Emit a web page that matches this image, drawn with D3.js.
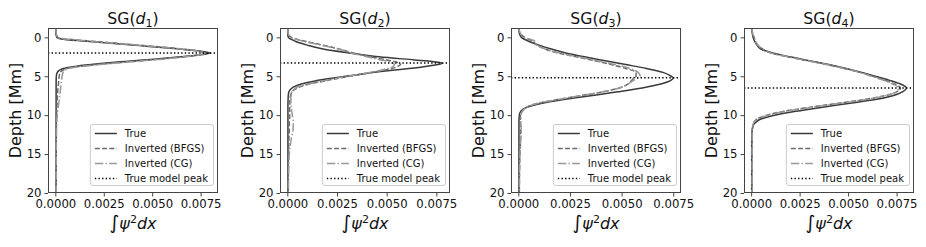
<!DOCTYPE html>
<html>
<head>
<meta charset="utf-8">
<script src="https://cdn.jsdelivr.net/npm/d3@7"></script>
<style>
  body { margin: 0; background: #fff; }
  svg { display: block; }
  text { font-family: "DejaVu Sans", sans-serif; }
</style>
</head>
<body>
<div id="vis"></div>
<script>
// depth grid (Mm) and integrated psi^2 per panel
var depth1 = [-1.2, -0.6, 0, 0.2, 0.5, 1.0, 1.5, 1.8, 2.0, 2.2, 2.5, 2.8, 3.1, 3.4, 3.7, 4.0, 4.5, 5, 6, 7, 8, 9, 10, 12, 15, 20];
var true1 = [0.00002, 0.00002, 0.00008, 0.0003, 0.0016, 0.0040, 0.0064, 0.0075, 0.0080, 0.0076, 0.0065, 0.0051, 0.0036, 0.0022, 0.0011, 0.0004, 0.0001, 0.00005, 0.00004, 0.00004, 0.00004, 0.00004, 0.00004, 0.00004, 0.00004, 0.00004];
var bfgs1 = [0.00003, 0.00004, 0.00012, 0.0005, 0.0019, 0.0043, 0.0066, 0.0075, 0.0078, 0.0076, 0.0067, 0.0054, 0.0040, 0.0026, 0.0014, 0.0006, 0.00025, 0.0002, 0.00016, 0.00012, 0.0001, 0.00008, 0.00006, 0.00005, 0.00004, 0.00004];
var cg1   = [0.00003, 0.00004, 0.00012, 0.0005, 0.0018, 0.0042, 0.0065, 0.0074, 0.0077, 0.0075, 0.0067, 0.0055, 0.0041, 0.0027, 0.0015, 0.0007, 0.0004, 0.00035, 0.0003, 0.00025, 0.0002, 0.00015, 0.0001, 0.00006, 0.00005, 0.00005];

var depth2 = [-1.2, -0.5, 0, 0.5, 1.0, 1.5, 2.0, 2.5, 2.9, 3.1, 3.3, 3.5, 3.8, 4.1, 4.4, 4.8, 5.2, 5.6, 6.0, 6.4, 6.8, 7.2, 7.8, 9, 10, 11, 12, 13, 15, 17, 20];
var true2 = [0.00002, 0.00002, 0.00005, 0.0004, 0.0010, 0.0018, 0.0031, 0.0046, 0.0064, 0.0073, 0.0078, 0.0076, 0.0068, 0.0058, 0.0047, 0.0035, 0.0024, 0.0014, 0.0007, 0.0003, 0.00012, 0.00006, 0.00004, 0.00003, 0.00003, 0.00003, 0.00003, 0.00003, 0.00003, 0.00003, 0.00003];
var bfgs2 = [0.00003, 0.00004, 0.0002, 0.0009, 0.0018, 0.0026, 0.0033, 0.0042, 0.0050, 0.0054, 0.0056, 0.0057, 0.0055, 0.0051, 0.0045, 0.0036, 0.0027, 0.0019, 0.0011, 0.0006, 0.0003, 0.0002, 0.00014, 0.00012, 0.00012, 0.0001, 0.0001, 0.00008, 0.00006, 0.00005, 0.00005];
var cg2   = [0.00003, 0.00004, 0.0002, 0.0008, 0.0017, 0.0026, 0.0032, 0.0040, 0.0047, 0.0051, 0.0053, 0.0054, 0.0053, 0.0049, 0.0044, 0.0035, 0.0026, 0.0018, 0.0010, 0.0005, 0.0003, 0.0002, 0.00018, 0.0002, 0.00025, 0.0003, 0.00028, 0.0002, 0.0001, 0.00007, 0.00005];

var depth3 = [-1.2, -0.5, 0, 0.5, 1.0, 1.5, 2.0, 2.5, 3.0, 3.5, 4.0, 4.5, 5.0, 5.2, 5.5, 6.0, 6.5, 7.0, 7.5, 8.0, 8.5, 9.0, 9.5, 10, 11, 12, 13, 14, 15, 17, 20];
var true3 = [0.00002, 0.00005, 0.00015, 0.0005, 0.0010, 0.0016, 0.0023, 0.0032, 0.0042, 0.0052, 0.0062, 0.0070, 0.0074, 0.0075, 0.0074, 0.0069, 0.0060, 0.0048, 0.0035, 0.0022, 0.0011, 0.0004, 0.00012, 0.00005, 0.00003, 0.00003, 0.00003, 0.00003, 0.00003, 0.00003, 0.00003];
var bfgs3 = [0.00002, 0.0001, 0.0003, 0.0007, 0.0009, 0.0013, 0.0019, 0.0028, 0.0037, 0.0045, 0.0052, 0.0057, 0.0057, 0.0056, 0.0055, 0.0053, 0.0049, 0.0041, 0.0030, 0.0019, 0.0009, 0.0004, 0.00018, 0.0001, 0.0001, 0.00012, 0.0001, 0.0001, 0.00008, 0.00006, 0.00005];
var cg3   = [0.00002, 0.0001, 0.0003, 0.0008, 0.0009, 0.0013, 0.0020, 0.0029, 0.0038, 0.0047, 0.0054, 0.0058, 0.0059, 0.0058, 0.0056, 0.0053, 0.0049, 0.0041, 0.0030, 0.0019, 0.0009, 0.0004, 0.0002, 0.00012, 0.00012, 0.00015, 0.00012, 0.0001, 0.00008, 0.00006, 0.00005];

var depth4 = [-1.2, -0.5, 0, 0.5, 1.0, 1.5, 2.0, 2.5, 3.0, 3.5, 4.0, 4.5, 5.0, 5.5, 6.0, 6.5, 7.0, 7.5, 8.0, 8.5, 9.0, 9.5, 10, 10.5, 11, 11.5, 12, 13, 15, 17, 20];
var true4 = [0.00003, 0.00006, 0.0001, 0.00018, 0.0003, 0.0005, 0.0011, 0.0020, 0.0030, 0.0040, 0.0049, 0.0057, 0.0064, 0.0071, 0.0077, 0.0080, 0.0078, 0.0073, 0.0064, 0.0050, 0.0036, 0.0023, 0.0012, 0.0005, 0.0002, 0.00008, 0.00005, 0.00003, 0.00003, 0.00003, 0.00003];
var bfgs4 = [0.00004, 0.00008, 0.00015, 0.00022, 0.00035, 0.0006, 0.0010, 0.0019, 0.0029, 0.0039, 0.0048, 0.0056, 0.0063, 0.0069, 0.0074, 0.0077, 0.0075, 0.0069, 0.0058, 0.0044, 0.0030, 0.0017, 0.0008, 0.0003, 0.00012, 0.00008, 0.00006, 0.00005, 0.00005, 0.00004, 0.00004];
var cg4   = [0.00004, 0.00008, 0.00015, 0.00022, 0.00035, 0.0006, 0.0010, 0.0019, 0.0029, 0.0039, 0.0048, 0.0056, 0.0062, 0.0068, 0.0073, 0.0076, 0.0075, 0.0069, 0.0059, 0.0045, 0.0031, 0.0018, 0.0009, 0.0003, 0.00012, 0.00008, 0.00006, 0.00005, 0.00005, 0.00005, 0.00004];

var peakDepths = [2.0, 3.3, 5.2, 6.5];
var titleSubs = ["1", "2", "3", "4"];
var xTicks = [0, 0.0025, 0.005, 0.0075];
var yTicks = [0, 5, 10, 15, 20];
var legendLabels = ["True", "Inverted (BFGS)", "Inverted (CG)", "True model peak"];

var panels = [
  {depth: depth1, series: [true1, bfgs1, cg1], peak: peakDepths[0], sub: titleSubs[0]},
  {depth: depth2, series: [true2, bfgs2, cg2], peak: peakDepths[1], sub: titleSubs[1]},
  {depth: depth3, series: [true3, bfgs3, cg3], peak: peakDepths[2], sub: titleSubs[2]},
  {depth: depth4, series: [true4, bfgs4, cg4], peak: peakDepths[3], sub: titleSubs[3]}
];

var styles = [
  {stroke: "#3a3a3a", dash: null},
  {stroke: "#6a6a6a", dash: "5,2.2"},
  {stroke: "#999999", dash: "8.5,2.2,1.4,2.2"},
  {stroke: "#000000", dash: "1.4,2.2"}
];

var axTop = 28, axH = 165, axW = 170;
var axLeft = [48, 280, 511, 744];
var yDomain = [-1.2, 20];

var svg = d3.select("#vis").append("svg")
  .attr("width", 926)
  .attr("height", 247);

panels.forEach(function(p, i) {
  var g = svg.append("g")
    .attr("transform", "translate(" + axLeft[i] + "," + axTop + ")");

  var all = [].concat(p.series[0], p.series[1], p.series[2]);
  var lo = d3.min(all), hi = d3.max(all), pad = (hi - lo) * 0.05;

  var x = d3.scaleLinear().domain([lo - pad, hi + pad]).range([0, axW]);
  var y = d3.scaleLinear().domain(yDomain).range([0, axH]);

  var line = d3.line()
    .x(function(d) { return x(d[0]); })
    .y(function(d) { return y(d[1]); })
    .curve(d3.curveMonotoneY);

  p.series.forEach(function(s, k) {
    var pts = s.map(function(v, j) { return [v, p.depth[j]]; });
    g.append("path")
      .datum(pts)
      .attr("d", line)
      .attr("fill", "none")
      .attr("stroke", styles[k].stroke)
      .attr("stroke-width", 1.5)
      .attr("stroke-dasharray", styles[k].dash);
  });

  // true model peak (full width)
  g.append("line")
    .attr("x1", 0).attr("x2", axW)
    .attr("y1", y(p.peak)).attr("y2", y(p.peak))
    .attr("stroke", styles[3].stroke)
    .attr("stroke-width", 1.5)
    .attr("stroke-dasharray", styles[3].dash);

  var xAxis = g.append("g")
    .attr("transform", "translate(0," + axH + ")")
    .call(d3.axisBottom(x).tickValues(xTicks).tickFormat(d3.format(".4f")).tickSize(3.5).tickPadding(3));
  var yAxis = g.append("g")
    .call(d3.axisLeft(y).tickValues(yTicks).tickSize(3.5).tickPadding(3));

  [xAxis, yAxis].forEach(function(a) {
    a.attr("font-family", "DejaVu Sans").attr("font-size", 11.7);
    a.select(".domain").remove();
    a.selectAll(".tick line").attr("stroke", "#444");
    a.selectAll(".tick text").attr("fill", "#111");
  });

  // frame
  g.append("rect")
    .attr("x", 0.5).attr("y", 0.5)
    .attr("width", axW - 1).attr("height", axH - 1)
    .attr("fill", "none")
    .attr("stroke", "#444")
    .attr("stroke-width", 1);

  // title
  var title = g.append("text")
    .attr("x", axW / 2)
    .attr("y", -4)
    .attr("text-anchor", "middle")
    .attr("font-size", 15.7)
    .attr("fill", "#111");
  title.append("tspan").text("SG(");
  title.append("tspan").attr("font-style", "italic").text("d");
  title.append("tspan").attr("font-size", 11).attr("dy", 3).text(p.sub);
  title.append("tspan").attr("dy", -3).text(")");

  // axis labels
  g.append("text")
    .attr("transform", "translate(-27," + (axH / 2) + ") rotate(-90)")
    .attr("text-anchor", "middle")
    .attr("font-size", 16)
    .attr("fill", "#111")
    .text("Depth [Mm]");

  var xl = g.append("text")
    .attr("x", axW / 2)
    .attr("y", axH + 36)
    .attr("text-anchor", "middle")
    .attr("font-size", 16)
    .attr("fill", "#111");
  xl.append("tspan").attr("font-size", 19).text("\u222B");
  xl.append("tspan").attr("font-style", "italic").text("\u03C8");
  xl.append("tspan").attr("font-size", 11).attr("dy", -6).text("2");
  xl.append("tspan").attr("font-style", "italic").attr("dy", 6).text("dx");

  // legend
  var lg = g.append("g");
  var box = lg.append("rect");
  var rows = lg.selectAll("g")
    .data(legendLabels)
    .enter().append("g")
    .attr("transform", function(d, k) { return "translate(0," + (9.5 + k * 15) + ")"; });
  rows.append("line")
    .attr("x1", 5).attr("x2", 27)
    .attr("y1", 0).attr("y2", 0)
    .attr("stroke", function(d, k) { return styles[k].stroke; })
    .attr("stroke-width", 1.5)
    .attr("stroke-dasharray", function(d, k) { return styles[k].dash; });
  var labels = rows.append("text")
    .attr("x", 35)
    .attr("y", 3.6)
    .attr("font-size", 10)
    .attr("fill", "#111")
    .text(function(d) { return d; });

  var tw = 0;
  labels.each(function() { tw = Math.max(tw, this.getComputedTextLength()); });
  var lw = 35 + tw + 5, lh = 61;
  box.attr("x", 0.5).attr("y", 0.5)
    .attr("width", lw).attr("height", lh)
    .attr("rx", 2.5)
    .attr("fill", "#fff").attr("fill-opacity", 0.8)
    .attr("stroke", "#cccccc").attr("stroke-width", 1);
  lg.attr("transform", "translate(" + (axW - 5 - lw) + "," + (axH - 69) + ")");
});
</script>
</body>
</html>
